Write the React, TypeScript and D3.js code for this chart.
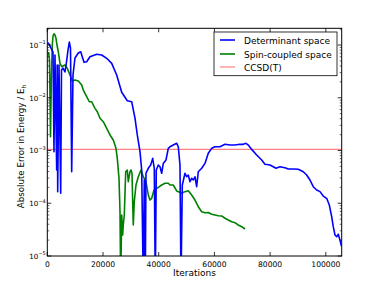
import React from "react";
import * as d3 from "d3";

const detIter = [100, 610, 1330, 2050, 2400, 2760, 3370, 3550, 3730, 4200, 4810, 5100, 5640, 6350, 6890, 7430, 7900, 8330, 8760, 9230, 9940, 11130, 11990, 13180, 14140, 15330, 17730, 19530, 21320, 23120, 24910, 26710, 28720, 30300, 31480, 32310, 33280, 33890, 34460, 34820, 35180, 35430, 36260, 37120, 37840, 38410, 38770, 39130, 39850, 40460, 41070, 41640, 42610, 43440, 44050, 45230, 46460, 47030, 47640, 48000, 48470, 49440, 50040, 50620, 51230, 51840, 52410, 53020, 53630, 54210, 55430, 56610, 57800, 59020, 60210, 62000, 63800, 65590, 67390, 69180, 70360, 71330, 72160, 73380, 75170, 76970, 78150, 79950, 81130, 82100, 83540, 85330, 86520, 88310, 90110, 91900, 93120, 94310, 95490, 96710, 97900, 99080, 100310, 101240, 102100, 102670, 103290, 103900, 104470, 105080, 105600];
const detErr = [0.111, 0.104, 0.0877, 0.0736, 9.5e-4, 0.0646, 4.27e-4, 0.0418, 1.66e-4, 0.0418, 1.55e-4, 0.0336, 0.0366, 0.0308, 0.0476, 0.0804, 0.114, 0.0877, 3.96e-4, 0.027, 0.0567, 0.0705, 0.0746, 0.047, 0.0482, 0.06, 0.0667, 0.0646, 0.056, 0.045, 0.027, 0.0127, 0.0088, 0.0084, 0.0041, 0.00197, 9.5e-4, 4.27e-4, 3e-6, 2.76e-4, 3e-6, 3.74e-4, 4.6e-4, 5.3e-4, 7.1e-4, 4.6e-4, 3e-6, 4.27e-4, 5.3e-4, 4.93e-4, 3.7e-4, 5.7e-4, 6.6e-4, 1.1e-3, 1.18e-3, 1.27e-3, 1.37e-3, 1.18e-3, 5.3e-4, 3e-6, 2.22e-4, 3.7e-4, 3.18e-4, 3.43e-4, 2.56e-4, 2.97e-4, 2.76e-4, 3.18e-4, 2.06e-4, 3.96e-4, 4.6e-4, 5.7e-4, 8.85e-4, 1.1e-3, 1.18e-3, 1.18e-3, 1.31e-3, 1.27e-3, 1.27e-3, 1.31e-3, 1.31e-3, 1.37e-3, 1.27e-3, 1.05e-3, 8.2e-4, 6.6e-4, 5.5e-4, 5.3e-4, 4.93e-4, 4.6e-4, 4.93e-4, 4.72e-4, 4.46e-4, 4.46e-4, 4.4e-4, 3.96e-4, 3.43e-4, 2.76e-4, 2.06e-4, 1.78e-4, 1.66e-4, 1.37e-4, 1.24e-4, 9.3e-5, 5.6e-5, 3.6e-5, 2.5e-5, 2.32e-5, 2.58e-5, 2.0e-5, 1.55e-5];

const spinIter = [430, 790, 1150, 1440, 1800, 2050, 2410, 2760, 3120, 3480, 3950, 4560, 5170, 5640, 6350, 7180, 8150, 8980, 9940, 11130, 12350, 12920, 14140, 15080, 15940, 17120, 17950, 18920, 20100, 21320, 22510, 23690, 24660, 25130, 25740, 26100, 26350, 26710, 27070, 27280, 27640, 28150, 28720, 29080, 29690, 30050, 30410, 30870, 31230, 31840, 32670, 33640, 34460, 35430, 36260, 36870, 37480, 38310, 39270, 40210, 41070, 42250, 43440, 44050, 45230, 46460, 47030, 48250, 49430, 50620, 51840, 53020, 54210, 55430, 56610, 57800, 59020, 60210, 61390, 62610, 63800, 64980, 66200, 67390, 68570, 69790, 70970];
const spinErr = [0.0736, 0.052, 1.83e-3, 0.0217, 0.1, 0.148, 0.163, 0.155, 0.134, 0.1, 0.0746, 0.045, 0.0388, 0.04, 0.0418, 0.0361, 0.027, 0.0208, 0.0217, 0.0208, 0.0175, 0.014, 0.0105, 0.0084, 0.0084, 0.0063, 0.00544, 0.0041, 0.00352, 0.00264, 0.00197, 0.00158, 0.0011, 7.1e-4, 2.97e-4, 6.9e-5, 3e-6, 6.0e-5, 2.5e-5, 3.87e-5, 6.0e-5, 3.96e-4, 4.27e-4, 2.56e-4, 3.96e-4, 4.27e-4, 3.7e-4, 3.87e-5, 1.07e-4, 2.22e-4, 3.18e-4, 4.27e-4, 3.18e-4, 2.56e-4, 1.43e-4, 1.15e-4, 1.24e-4, 1.78e-4, 1.92e-4, 2.06e-4, 2.22e-4, 2.39e-4, 2.39e-4, 2.22e-4, 2.22e-4, 1.71e-4, 1.66e-4, 1.55e-4, 1.66e-4, 1.73e-4, 1.43e-4, 1.15e-4, 8.6e-5, 6.9e-5, 6.6e-5, 6.7e-5, 6.2e-5, 6.0e-5, 5.8e-5, 5.75e-5, 5.2e-5, 4.8e-5, 4.47e-5, 4.28e-5, 3.87e-5, 3.6e-5, 3.25e-5];

const ccsdT = 1.05e-3;

const xTicks = [0, 20000, 40000, 60000, 80000, 100000];
const yTickExps = [-5, -4, -3, -2, -1];
const seriesNames = ["Determinant space", "Spin-coupled space", "CCSD(T)"];
const seriesColors = ["#0000ff", "#008000", "#ff8080"];

const L = 47.3, R = 341.7, T = 28.3, B = 256;
const FONT = "DejaVu Sans, sans-serif";

export default function App() {
  const x = d3.scaleLinear().domain([0, 105700]).range([L, R]);
  const y = d3.scaleLog().domain([1e-5, 0.2075]).range([B, T]);

  const line = d3
    .line<[number, number]>()
    .x((d) => x(d[0]))
    .y((d) => y(d[1]));

  const det = detIter.map((v, i) => [v, detErr[i]] as [number, number]);
  const spin = spinIter.map((v, i) => [v, spinErr[i]] as [number, number]);

  const minor: number[] = [];
  for (let e = -5; e <= -1; e++) {
    for (let m = 2; m <= 9; m++) {
      const v = m * Math.pow(10, e);
      if (v <= 0.2075) minor.push(v);
    }
  }

  const legX = 214, legY = 32, legW = 123, legH = 43.7;
  const legRows = [40, 54, 67];

  return (
    <svg
      width={380}
      height={285}
      style={{ position: "absolute", left: 0, top: 0, background: "#fff" }}
      fontFamily={FONT}
    >
      <rect x={0} y={0} width={380} height={285} fill="#fff" />
      <defs>
        <clipPath id="plotclip">
          <rect x={L} y={T} width={R - L} height={B - T} />
        </clipPath>
      </defs>
      <g clipPath="url(#plotclip)">
        <line x1={L} x2={R} y1={y(ccsdT)} y2={y(ccsdT)} stroke={seriesColors[2]} strokeWidth={1.2} />
        <path d={line(spin) || ""} fill="none" stroke={seriesColors[1]} strokeWidth={1.6} strokeLinejoin="round" />
        <path d={line(det) || ""} fill="none" stroke={seriesColors[0]} strokeWidth={1.6} strokeLinejoin="round" />
      </g>
      {/* frame */}
      <rect x={L} y={T} width={R - L} height={B - T} fill="none" stroke="#000" strokeWidth={1} />
      {/* x ticks */}
      {xTicks.map((t) => (
        <g key={"x" + t}>
          <line x1={x(t)} x2={x(t)} y1={B} y2={B - 4} stroke="#000" strokeWidth={0.8} />
          <line x1={x(t)} x2={x(t)} y1={T} y2={T + 4} stroke="#000" strokeWidth={0.8} />
          <text x={x(t)} y={267} fontSize={7.6} textAnchor="middle" fill="#000">
            {t}
          </text>
        </g>
      ))}
      {/* y ticks */}
      {yTickExps.map((e) => {
        const v = Math.pow(10, e);
        return (
          <g key={"y" + e}>
            <line x1={L} x2={L + 4} y1={y(v)} y2={y(v)} stroke="#000" strokeWidth={0.8} />
            <line x1={R} x2={R - 4} y1={y(v)} y2={y(v)} stroke="#000" strokeWidth={0.8} />
            <text x={L - 1.5} y={y(v) + 2.8} fontSize={7.2} textAnchor="end" fill="#000">
              <tspan>10</tspan>
              <tspan fontSize={5} dy={-3.5}>{"\u2212" + Math.abs(e)}</tspan>
            </text>
          </g>
        );
      })}
      {minor.map((v, i) => (
        <g key={"m" + i}>
          <line x1={L} x2={L + 2} y1={y(v)} y2={y(v)} stroke="#000" strokeWidth={0.6} />
          <line x1={R} x2={R - 2} y1={y(v)} y2={y(v)} stroke="#000" strokeWidth={0.6} />
        </g>
      ))}
      {/* axis labels */}
      <text x={194.5} y={276} fontSize={9} textAnchor="middle" fill="#000">
        Iterations
      </text>
      <text
        transform={`translate(23.5, 146.5) rotate(-90)`}
        fontSize={8.7}
        textAnchor="middle"
        fill="#000"
      >
        <tspan>Absolute Error in Energy / E</tspan>
        <tspan fontSize={6} dy={2}>h</tspan>
      </text>
      {/* legend */}
      <rect x={legX} y={legY} width={legW} height={legH} fill="#fff" stroke="#000" strokeWidth={0.8} />
      {seriesNames.map((n, i) => (
        <g key={n}>
          <line
            x1={220}
            x2={235}
            y1={legRows[i]}
            y2={legRows[i]}
            stroke={seriesColors[i]}
            strokeWidth={i === 2 ? 1.2 : 1.6}
          />
          <text x={244} y={legRows[i] + 3.5} fontSize={9} fill="#000">
            {n}
          </text>
        </g>
      ))}
    </svg>
  );
}
